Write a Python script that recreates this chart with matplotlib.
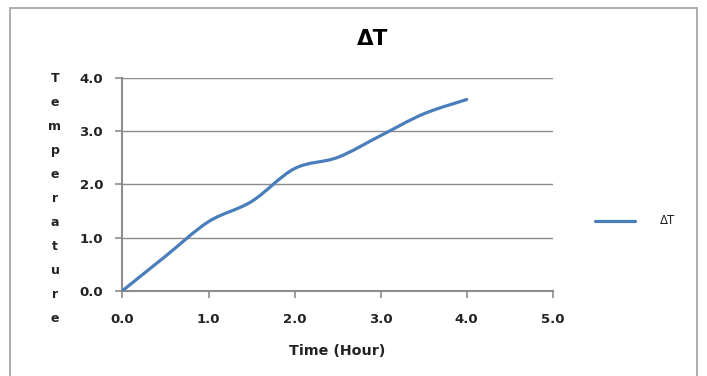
import numpy as np
import matplotlib.pyplot as plt
from matplotlib.path import Path
from matplotlib.patches import PathPatch, Rectangle
from matplotlib.lines import Line2D

hours = [0.0, 0.5, 1.0, 1.5, 2.0, 2.5, 3.0, 3.5, 4.0]
delta_t = [0.0, 0.65, 1.3, 1.68, 2.3, 2.51, 2.92, 3.33, 3.6]
x_ticks = [0.0, 1.0, 2.0, 3.0, 4.0, 5.0]
y_ticks = [0.0, 1.0, 2.0, 3.0, 4.0]

line_color = '#4A7EBB'
grid_color = '#8C8C8C'


def smooth_path(xs, ys, k=1 / 6):
    # excel-like smoothed line as cubic bezier segments through the points
    pts = np.column_stack([xs, ys])
    verts = [pts[0]]
    codes = [Path.MOVETO]
    n = len(pts)
    for i in range(n - 1):
        p0 = pts[i - 1] if i > 0 else pts[i]
        p1 = pts[i]
        p2 = pts[i + 1]
        p3 = pts[i + 2] if i + 2 < n else pts[i + 1]
        c1 = p1 + (p2 - p0) * k
        c2 = p2 - (p3 - p1) * k
        verts += [c1, c2, p2]
        codes += [Path.CURVE4] * 3
    return Path(verts, codes)


fig = plt.figure(figsize=(7.07, 3.76), dpi=100)
fig.patches.append(Rectangle((10 / 707, -0.05), 687 / 707, 1.05 - 8 / 376,
                             transform=fig.transFigure, fill=False,
                             edgecolor='#A0A0A0', linewidth=1.2))

ax = fig.add_axes([122.5 / 707, 1 - 290.7 / 376, 430.2 / 707, 212.4 / 376])
ax.add_patch(PathPatch(smooth_path(hours, delta_t), facecolor='none',
                       edgecolor=line_color, linewidth=2.3,
                       capstyle='round', joinstyle='round', zorder=3))

ax.set_xlim(0, 5)
ax.set_ylim(0, 4)
ax.set_xticks(x_ticks)
ax.set_yticks(y_ticks)
ax.set_xticklabels(['%.1f' % v for v in x_ticks], fontsize=9.5, fontweight='bold', color='#222222')
ax.set_yticklabels(['%.1f' % v for v in y_ticks], fontsize=9.5, fontweight='bold', color='#222222')
ax.tick_params(axis='both', length=5, width=1.2, color=grid_color, direction='out')
ax.tick_params(axis='x', pad=11)
ax.tick_params(axis='y', pad=9)
ax.grid(axis='y', color=grid_color, linewidth=1.0)
ax.set_axisbelow(True)
for side in ['top', 'right']:
    ax.spines[side].set_visible(False)
for side in ['left', 'bottom']:
    ax.spines[side].set_color(grid_color)
    ax.spines[side].set_linewidth(1.5)

fig.text(373 / 707, 1 - 39 / 376, 'ΔT', ha='center', va='center',
         fontsize=15.5, fontweight='bold')
fig.text(337 / 707, 1 - 351 / 376, 'Time (Hour)', ha='center', va='center',
         fontsize=10.3, fontweight='bold', color='#222222')

letters = 'Temperature'
for i, ch in enumerate(letters):
    fig.text(55 / 707, 1 - (78 + i * 24.1) / 376, ch, ha='center', va='center',
             fontsize=9, fontweight='bold', color='#222222')

fig.lines.append(Line2D([595 / 707, 635 / 707], [1 - 221 / 376, 1 - 221 / 376],
                        transform=fig.transFigure, color=line_color,
                        linewidth=2.3, solid_capstyle='round'))
fig.text(660 / 707, 1 - 221 / 376, 'ΔT', ha='left', va='center',
         fontsize=8.5, color='#222222')

fig.savefig('out.png', dpi=100)
